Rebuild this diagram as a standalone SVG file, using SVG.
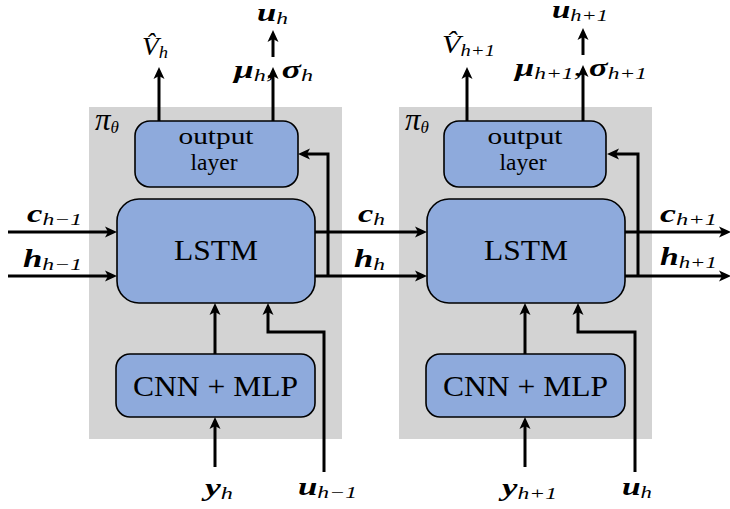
<svg xmlns="http://www.w3.org/2000/svg" width="730" height="509" viewBox="0 0 730 509">
<style>
.bg{fill:#d3d3d3}
.box{fill:#8eaadc;stroke:#000;stroke-width:1.6}
text{font-family:'Liberation Serif','Times New Roman',serif;fill:#000}
.big{font-size:29px}
.mid{font-size:24px}
.m{font-size:25px}
.pi{font-size:31px;font-style:italic}
.b{font-weight:bold;font-style:italic}
.s{font-size:17px;font-style:italic;font-weight:normal}
.i{font-style:italic}
.con path{fill:none;stroke:#000;stroke-width:3;stroke-linejoin:miter}
</style>
<defs>
<marker id="ah" viewBox="0 -6 13 12" refX="7" refY="0" markerWidth="13" markerHeight="12" markerUnits="userSpaceOnUse" orient="auto" overflow="visible">
<path d="M0,-5.5 L12,0 L0,5.5 L3,0 Z" fill="#000"/>
</marker>
</defs>

<g id="module1">
<rect class="bg" x="89" y="107" width="253" height="332"/>
<text class="pi" x="95" y="130">π<tspan class="s" font-size="19" dy="3">θ</tspan></text>
</g>
<g id="module2">
<rect class="bg" x="399" y="107" width="253" height="332"/>
<text class="pi" x="405" y="130">π<tspan class="s" font-size="19" dy="3">θ</tspan></text>
</g>

<g id="output1">
<rect class="box" x="135" y="121" width="163" height="66" rx="15"/>
<text class="mid" x="216" y="144" text-anchor="middle" textLength="75" lengthAdjust="spacingAndGlyphs">output</text>
<text class="mid" x="214" y="170" text-anchor="middle" textLength="47" lengthAdjust="spacingAndGlyphs">layer</text>
</g>
<g id="lstm1">
<rect class="box" x="117" y="199" width="198" height="104" rx="22"/>
<text class="big" x="216" y="260" text-anchor="middle" textLength="84" lengthAdjust="spacingAndGlyphs">LSTM</text>
</g>
<g id="cnn1">
<rect class="box" x="116" y="354" width="199" height="63" rx="14"/>
<text class="big" x="215.5" y="396" text-anchor="middle" textLength="165" lengthAdjust="spacingAndGlyphs">CNN + MLP</text>
</g>

<g id="output2">
<rect class="box" x="444" y="121" width="162" height="66" rx="15"/>
<text class="mid" x="525" y="144" text-anchor="middle" textLength="75" lengthAdjust="spacingAndGlyphs">output</text>
<text class="mid" x="523" y="170" text-anchor="middle" textLength="47" lengthAdjust="spacingAndGlyphs">layer</text>
</g>
<g id="lstm2">
<rect class="box" x="427" y="199" width="198" height="104" rx="22"/>
<text class="big" x="526" y="260" text-anchor="middle" textLength="84" lengthAdjust="spacingAndGlyphs">LSTM</text>
</g>
<g id="cnn2">
<rect class="box" x="426" y="354" width="199" height="63" rx="14"/>
<text class="big" x="525.5" y="396" text-anchor="middle" textLength="165" lengthAdjust="spacingAndGlyphs">CNN + MLP</text>
</g>

<g class="con" id="connectors">
<path d="M8,232 H112" marker-end="url(#ah)"/>
<path d="M8,276 H112" marker-end="url(#ah)"/>
<path d="M315,232 H422" marker-end="url(#ah)"/>
<path d="M315,276 H422" marker-end="url(#ah)"/>
<path d="M328,276 V154 H303" marker-end="url(#ah)"/>
<path d="M159,121 V72" marker-end="url(#ah)"/>
<path d="M273,121 V72" marker-end="url(#ah)"/>
<path d="M273,57 V35" marker-end="url(#ah)"/>
<path d="M215,354 V308" marker-end="url(#ah)"/>
<path d="M215,467 V422" marker-end="url(#ah)"/>
<path d="M324,472 V332 H268 V308" marker-end="url(#ah)"/>

<path d="M625,232 H726" marker-end="url(#ah)"/>
<path d="M625,276 H726" marker-end="url(#ah)"/>
<path d="M638,276 V154 H612" marker-end="url(#ah)"/>
<path d="M467,121 V72" marker-end="url(#ah)"/>
<path d="M583,121 V70" marker-end="url(#ah)"/>
<path d="M583,55 V33" marker-end="url(#ah)"/>
<path d="M525,354 V308" marker-end="url(#ah)"/>
<path d="M525,467 V422" marker-end="url(#ah)"/>
<path d="M635,472 V332 H578 V308" marker-end="url(#ah)"/>
</g>

<g id="labels">
<text class="m" x="27" y="222" textLength="55" lengthAdjust="spacingAndGlyphs"><tspan class="b">c</tspan><tspan class="s" dy="3">h−1</tspan></text>
<text class="m" x="23" y="267" textLength="59" lengthAdjust="spacingAndGlyphs"><tspan class="b">h</tspan><tspan class="s" dy="3">h−1</tspan></text>
<text class="m" x="358" y="222" textLength="27" lengthAdjust="spacingAndGlyphs"><tspan class="b">c</tspan><tspan class="s" dy="3">h</tspan></text>
<text class="m" x="354" y="267" textLength="31" lengthAdjust="spacingAndGlyphs"><tspan class="b">h</tspan><tspan class="s" dy="3">h</tspan></text>
<text class="m" x="660" y="222" textLength="57" lengthAdjust="spacingAndGlyphs"><tspan class="b">c</tspan><tspan class="s" dy="3">h+1</tspan></text>
<text class="m" x="660" y="265" textLength="57" lengthAdjust="spacingAndGlyphs"><tspan class="b">h</tspan><tspan class="s" dy="3">h+1</tspan></text>
<text class="m" x="205" y="496" textLength="28" lengthAdjust="spacingAndGlyphs"><tspan class="b">y</tspan><tspan class="s" dy="3">h</tspan></text>
<text class="m" x="298" y="495" textLength="59" lengthAdjust="spacingAndGlyphs"><tspan class="b">u</tspan><tspan class="s" dy="3">h−1</tspan></text>
<text class="m" x="502" y="496" textLength="55" lengthAdjust="spacingAndGlyphs"><tspan class="b">y</tspan><tspan class="s" dy="3">h+1</tspan></text>
<text class="m" x="622" y="495" textLength="30" lengthAdjust="spacingAndGlyphs"><tspan class="b">u</tspan><tspan class="s" dy="3">h</tspan></text>
<text class="m" x="257" y="21" textLength="31" lengthAdjust="spacingAndGlyphs"><tspan class="b">u</tspan><tspan class="s" dy="3">h</tspan></text>
<text class="m" x="234" y="78" textLength="79" lengthAdjust="spacingAndGlyphs"><tspan class="b">μ</tspan><tspan class="s" dy="3">h</tspan><tspan dy="-3">,</tspan><tspan class="b" dx="5">σ</tspan><tspan class="s" dy="3">h</tspan></text>
<text class="m i" x="142" y="55" textLength="26" lengthAdjust="spacingAndGlyphs">V̂<tspan class="s" dy="3">h</tspan></text>
<text class="m i" x="442" y="53" textLength="53" lengthAdjust="spacingAndGlyphs">V̂<tspan class="s" dy="3">h+1</tspan></text>
<text class="m" x="515" y="76" textLength="132" lengthAdjust="spacingAndGlyphs"><tspan class="b">μ</tspan><tspan class="s" dy="3">h+1</tspan><tspan dy="-3">,</tspan><tspan class="b" dx="5">σ</tspan><tspan class="s" dy="3">h+1</tspan></text>
<text class="m" x="552" y="18" textLength="56" lengthAdjust="spacingAndGlyphs"><tspan class="b">u</tspan><tspan class="s" dy="3">h+1</tspan></text>
</g>
</svg>
